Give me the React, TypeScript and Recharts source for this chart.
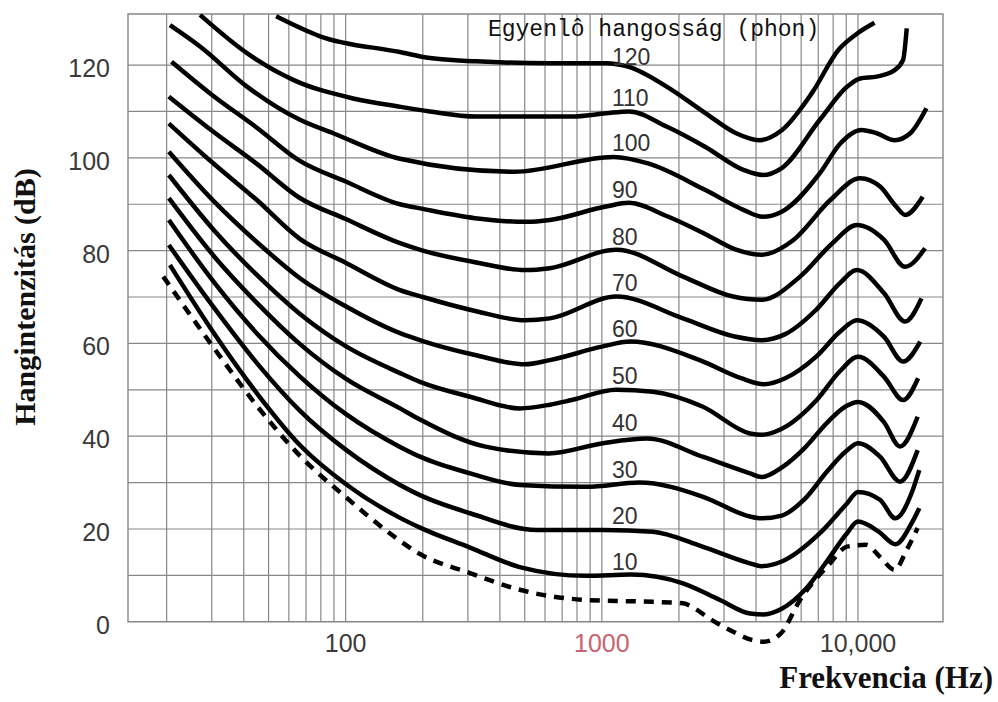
import React from 'react';
import {
  ComposedChart,
  Line,
  XAxis,
  YAxis,
  ReferenceLine,
  ReferenceArea,
  ReferenceDot,
  Label,
} from 'recharts';

// ---------- data ----------
const xDomain: [number, number] = [14.13, 21475];
const yDomain: [number, number] = [-5, 131];
const frameTop = 131;

const freqGrid = [20, 30, 40, 50, 60, 70, 80, 90, 100, 200, 300, 400, 500, 600, 700, 800, 900, 1000, 2000, 3000, 4000, 5000, 6000, 7000, 8000, 9000, 10000];
const dbGrid = [10, 20, 30, 40, 50, 60, 70, 80, 90, 100, 110, 120];
const yTicks = [0, 20, 40, 60, 80, 100, 120];
const xTicks = [100, 1000, 10000];
const xTickLabels: Record<number, string> = { 100: '100', 1000: '1000', 10000: '10,000' };

const phonLevels = [10, 20, 30, 40, 50, 60, 70, 80, 90, 100, 110, 120];
const phonLabelAnchors = [12.9, 22.9, 32.8, 42.9, 53.0, 63.1, 73.0, 83.0, 93.1, 103.2, 112.9, 121.7];
const phonLabelFreq = 1085;
const titleText = 'Egyenlô hangosság (phon)';

const threshold: [number, number][] = [[19.4, 74.4], [30.6, 59.0], [45.1, 46.5], [66.5, 35.7], [100, 26.9], [157, 18.1], [195, 14.6], [306, 10.5], [478, 6.9], [872, 4.7], [1583, 4.3], [2075, 4.0], [2300, 2.9], [2680, 0.4], [3170, -1.8], [3850, -3.9], [4300, -4.3], [5000, -2.5], [5940, 4.7], [7780, 12.6], [9060, 16.2], [10750, 16.6], [12190, 14.0], [13900, 11.2], [15500, 15.5], [17100, 20.2]];
const phon10: [number, number][] = [[20.6, 76.9], [30.6, 62.2], [45.1, 49.2], [66.5, 38.0], [100, 29.7], [163, 22.4], [195, 20.3], [306, 16.0], [478, 11.8], [872, 9.9], [1300, 10.2], [2075, 8.3], [2893, 4.7], [3788, 1.8], [4300, 1.6], [5040, 2.8], [6210, 6.9], [7620, 13.3], [9060, 19.1], [10000, 21.6], [12000, 19.5], [14030, 16.7], [16180, 21.2], [17350, 24.5]];
const phon20: [number, number][] = [[20.4, 81.2], [30.6, 67.7], [45.1, 55.7], [66.5, 45.4], [100, 37.1], [163, 29.5], [195, 27.3], [306, 23.4], [556, 19.8], [1010, 19.8], [1583, 19.4], [2470, 16.2], [3788, 12.6], [4200, 12.0], [5040, 13.0], [7100, 19.1], [9060, 25.5], [10000, 28.0], [12190, 26.3], [14000, 22.3], [16180, 27.7], [17350, 32.7]];
const phon30: [number, number][] = [[20.4, 86.6], [30.6, 73.2], [45.1, 62.1], [66.5, 52.8], [100, 44.8], [163, 37.7], [195, 35.6], [306, 32.0], [478, 29.5], [872, 29.1], [1400, 30.0], [2470, 27.0], [3788, 22.7], [4200, 22.3], [5040, 22.9], [6200, 26.5], [7600, 32.5], [9000, 36.8], [10000, 38.5], [12190, 35.6], [14600, 30.2], [17100, 37.0]];
const phon40: [number, number][] = [[20.4, 91.3], [30.6, 78.8], [45.1, 68.7], [66.5, 59.8], [100, 52.4], [163, 46.0], [195, 43.6], [355, 37.7], [620, 36.3], [1010, 38.5], [1500, 39.5], [2470, 35.6], [3788, 32.0], [4200, 31.2], [5050, 33.3], [6200, 37.5], [7600, 43.0], [9000, 46.5], [10000, 47.4], [12650, 43.0], [14600, 37.8], [17100, 44.2]];
const phon50: [number, number][] = [[20.4, 96.3], [30.6, 84.4], [45.1, 74.7], [66.5, 66.3], [100, 59.4], [163, 53.6], [195, 51.7], [306, 48.5], [478, 46.0], [627, 46.8], [763, 47.8], [1136, 50.0], [1583, 49.6], [2470, 46.4], [3788, 40.6], [4200, 40.3], [5000, 41.5], [6900, 47.8], [8500, 54.0], [10000, 57.1], [12650, 52.8], [15000, 47.8], [17170, 52.5]];
const phon60: [number, number][] = [[20.4, 101.3], [30.6, 90.6], [45.1, 81.8], [66.5, 74.0], [100, 68.0], [163, 62.2], [200, 60.5], [320, 57.5], [500, 55.5], [627, 56.4], [1000, 59.3], [1290, 60.4], [2410, 56.4], [3500, 52.5], [4300, 51.2], [5200, 52.5], [6850, 57.1], [8500, 62.5], [9900, 65.0], [12650, 61.4], [15000, 56.1], [17500, 60.4]];
const phon70: [number, number][] = [[20.4, 107.4], [30, 99.1], [45, 90.9], [66, 82.6], [100, 77.4], [163, 71.5], [200, 70.0], [320, 67.0], [500, 65.0], [627, 65.4], [1140, 70.1], [2075, 65.4], [3300, 61.5], [4200, 60.7], [5200, 62.0], [6850, 67.2], [8500, 73.0], [9900, 75.8], [12650, 70.8], [15270, 64.7], [17700, 69.7]];
const phon80: [number, number][] = [[20.4, 113.2], [30, 105.9], [45, 98.7], [66, 91.4], [100, 86.8], [163, 81.6], [200, 80.0], [320, 77.5], [500, 75.8], [627, 76.2], [1140, 80.2], [2075, 74.4], [3250, 70.1], [4200, 69.4], [5940, 74.4], [7950, 81.6], [9900, 85.5], [12650, 82.3], [15270, 76.5], [18270, 80.5]];
const phon90: [number, number][] = [[20.9, 120.7], [30, 113.6], [45, 106.5], [66, 99.4], [100, 94.9], [163, 90.0], [200, 89.0], [320, 87.0], [507, 86.2], [627, 86.6], [1038, 89.5], [1276, 90.3], [1800, 87.4], [2528, 83.6], [3340, 80.2], [4200, 79.1], [5600, 82.3], [7800, 90.9], [10200, 95.6], [12200, 93.8], [14100, 89.5], [15300, 87.7], [17900, 91.6]];
const phon100: [number, number][] = [[20.6, 128.6], [27, 124.0], [41.3, 115.3], [66.3, 108.2], [89.4, 105.3], [163, 99.8], [455, 97.0], [1111, 100.2], [1515, 98.8], [2528, 93.1], [3570, 88.8], [4250, 87.3], [5040, 88.4], [7100, 96.7], [8530, 103.1], [10300, 106.0], [11830, 105.3], [13900, 103.8], [16000, 105.3], [18500, 110.7]];
const phon110: [number, number][] = [[27, 130.8], [41.3, 122.5], [62.4, 116.8], [107, 112.8], [163, 111.0], [213, 110.0], [323, 108.9], [763, 108.9], [1038, 109.6], [1276, 110.0], [1797, 106.7], [2528, 102.4], [3570, 97.4], [4250, 96.3], [5040, 97.8], [7100, 108.2], [9060, 115.3], [10200, 117.1], [11830, 117.5], [13900, 118.9], [15000, 121.1], [15500, 127.9]];
const phon120: [number, number][] = [[53.5, 130.5], [79.4, 126.2], [163, 122.8], [213, 121.5], [323, 120.8], [627, 120.4], [1038, 120.4], [1276, 119.6], [1797, 115.3], [2528, 109.7], [3342, 105.3], [4108, 103.8], [5051, 106.0], [6615, 114.0], [8400, 123.3], [10000, 126.9], [11600, 129.1]];

const solidCurves = [phon10, phon20, phon30, phon40, phon50, phon60, phon70, phon80, phon90, phon100, phon110, phon120];

const toPoints = (arr: [number, number][]) => arr.map(([f, db]) => ({ f, db }));

// ---------- styles ----------
const sans = '"Liberation Sans", Arial, Helvetica, sans-serif';
const serif = '"Liberation Serif", "Times New Roman", Times, serif';
const mono = '"Courier New", "Liberation Mono", monospace';
const gridColor = '#878787';

const XTick = (props: any) => {
  const { x, y, payload } = props;
  const v = payload.value as number;
  return (
    <text
      x={x}
      y={y + 6.5}
      textAnchor="middle"
      fontSize={25}
      fontFamily={sans}
      fill={v === 1000 ? '#c8646e' : '#3a3a3a'}
    >
      {xTickLabels[v]}
    </text>
  );
};

export default function App() {
  return (
    <div style={{ position: 'absolute', left: 0, top: 0, width: 998, height: 702, background: '#ffffff' }}>
      <ComposedChart width={998} height={702} margin={{ top: 14, right: 55, bottom: 0, left: 0 }}>
        <XAxis
          xAxisId="f"
          type="number"
          dataKey="f"
          scale="log"
          domain={xDomain}
          ticks={xTicks}
          interval={0}
          height={57}
          axisLine={false}
          tickLine={false}
          tickSize={0}
          tickMargin={0}
          tick={<XTick />}
          allowDataOverflow
        >
          <Label
            content={() => (
              <text x={993} y={688} textAnchor="end" fontSize={31} fontWeight="bold" fontFamily={serif} fill="#111">
                Frekvencia (Hz)
              </text>
            )}
          />
        </XAxis>
        <YAxis
          yAxisId="db"
          type="number"
          domain={yDomain}
          ticks={yTicks}
          interval={0}
          width={128}
          axisLine={false}
          tickLine={false}
          tickMargin={12}
          tick={{ fontSize: 25, fill: '#3a3a3a', fontFamily: sans, dy: 3 }}
          allowDataOverflow
        >
          <Label
            content={() => (
              <text
                x={35}
                y={297}
                transform="rotate(-90 35 297)"
                textAnchor="middle"
                fontSize={30}
                fontWeight="bold"
                fontFamily={serif}
                fill="#111"
              >
                Hangintenzitás (dB)
              </text>
            )}
          />
        </YAxis>

        {dbGrid.map((v) => (
          <ReferenceLine key={'h' + v} xAxisId="f" yAxisId="db" y={v} stroke={gridColor} strokeWidth={1.2} />
        ))}
        {freqGrid.map((f) => (
          <ReferenceLine
            key={'v' + f}
            xAxisId="f"
            yAxisId="db"
            segment={[{ x: f, y: 0 }, { x: f, y: frameTop }]}
            stroke={gridColor}
            strokeWidth={1.2}
          />
        ))}
        <ReferenceArea
          xAxisId="f"
          yAxisId="db"
          x1={xDomain[0]}
          x2={xDomain[1]}
          y1={0}
          y2={frameTop}
          fill="none"
          fillOpacity={0}
          stroke={gridColor}
          strokeWidth={1.4}
        />

        <Line
          xAxisId="f"
          yAxisId="db"
          data={toPoints(threshold)}
          dataKey="db"
          type="monotone"
          stroke="#000"
          strokeWidth={4.5}
          strokeDasharray="10 8"
          dot={false}
          activeDot={false}
          isAnimationActive={false}
        />
        {solidCurves.map((c, i) => (
          <Line
            key={'c' + i}
            xAxisId="f"
            yAxisId="db"
            data={toPoints(c)}
            dataKey="db"
            type="monotone"
            stroke="#000"
            strokeWidth={4.5}
            dot={false}
            activeDot={false}
            isAnimationActive={false}
          />
        ))}

        {phonLevels.map((p, i) => (
          <ReferenceDot
            key={'l' + p}
            xAxisId="f"
            yAxisId="db"
            x={phonLabelFreq}
            y={phonLabelAnchors[i]}
            r={1}
            fill="none"
            stroke="none"
            label={{ value: String(p), position: 'right', offset: 0, fontSize: 23, fill: '#333', fontFamily: sans }}
          />
        ))}
        <ReferenceDot
          xAxisId="f"
          yAxisId="db"
          x={356}
          y={128.1}
          r={1}
          fill="none"
          stroke="none"
          label={{ value: titleText, position: 'right', offset: 0, fontSize: 23, fill: '#111', fontFamily: mono }}
        />
      </ComposedChart>
    </div>
  );
}
